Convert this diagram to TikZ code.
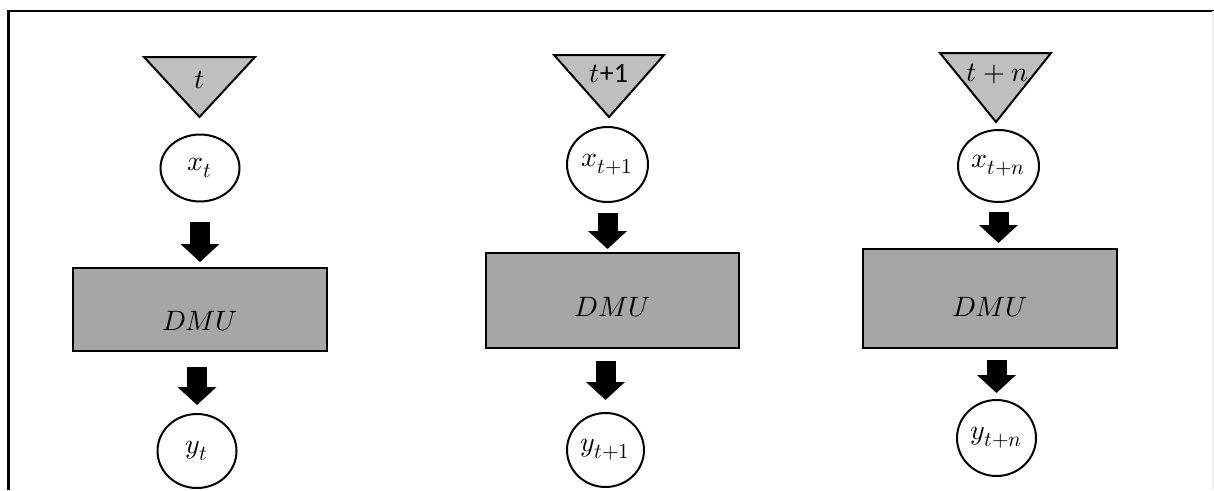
\documentclass[tikz,border=0pt]{standalone}
\usepackage{fontspec}
\usepackage{unicode-math}
\setmathfont{Latin Modern Math}
\DeclareMathSizes{21}{21}{16}{12}
\newfontfamily\calibri{Carlito}
\usetikzlibrary{arrows.meta,shapes.geometric}
\definecolor{trigray}{RGB}{191,191,191}
\definecolor{dmugray}{RGB}{166,166,166}
\begin{document}
\begin{tikzpicture}[x=0.75pt,y=-0.75pt,
  font=\fontsize{21}{25}\selectfont,
  tri/.style={draw=black, line width=1.5pt, fill=trigray, line join=miter},
  lbl/.style={inner sep=0pt},
  circ/.style={draw, ellipse, line width=1.5pt, fill=white, inner sep=0pt},
  dmu/.style={draw, rectangle, line width=1.5pt, fill=dmugray, inner sep=0pt, text depth=0pt},
  blk/.style={line width=15pt, -{Triangle[width=28.5pt,length=13.5pt]}},
  frame/.style={line width=2pt}
]
\useasboundingbox (0,0) rectangle (1214,490);
% frame
\draw[frame] (8.5,490) -- (8.5,11) -- (1214,11);
\draw[gray!12, line width=1pt] (1213,11) -- (1213,490);

% column 1
\draw[tri] (144,57) -- (255,57) -- (199.5,117) -- cycle;
\node[lbl] (t1) at (200,79.5) {$t$};
\node[circ, minimum width=59.25pt, minimum height=50.25pt] (x1) at (200,168) {$x_t$};
\node[dmu, minimum width=190.5pt, minimum height=62.25pt, text height=31.5pt] (d1) at (200,309.5) {$DMU$};
\node[circ, minimum width=59.25pt, minimum height=55.5pt] (y1) at (197,451) {$y_t$};
\draw[blk, shorten <=14.25pt, shorten >=3.75pt] (x1.south) -- (x1.south |- d1.north);
\draw[blk, shorten <=11.25pt, shorten >=6pt] (y1.north |- d1.south) -- (y1.north);

% column 2
\draw[tri] (554,55) -- (664,55) -- (609,117) -- cycle;
\node[lbl] (t2) at (609,73.5) {$t$\calibri +1};
\node[circ, minimum width=60.75pt, minimum height=56.25pt] (x2) at (607.5,164.5) {$x_{t+1}$};
\node[dmu, minimum width=189.75pt, minimum height=71.25pt, text height=24.1pt] (d2) at (612.5,300.5) {$DMU$};
\node[circ, minimum width=57.75pt, minimum height=55.5pt] (y2) at (605.5,450) {$y_{t+1}$};
\draw[blk, shorten <=7.5pt, shorten >=2.25pt] (x2.south) -- (x2.south |- d2.north);
\draw[blk, shorten <=9pt, shorten >=9pt] (y2.north |- d2.south) -- (y2.north);

% column 3
\draw[tri] (940,53) -- (1051,53) -- (996,122) -- cycle;
\node[lbl] (t3) at (997.5,73.5) {$t+n$};
\node[circ, minimum width=60.75pt, minimum height=54pt] (x3) at (998.5,166) {$x_{t+n}$};
\node[dmu, minimum width=190.5pt, minimum height=74.25pt, text height=27.1pt] (d3) at (990,298.5) {$DMU$};
\node[circ, minimum width=59.25pt, minimum height=57pt] (y3) at (996.5,438) {$y_{t+n}$};
\draw[blk, shorten <=6.75pt, shorten >=3.75pt] (x3.south) -- (x3.south |- d3.north);
\draw[blk, shorten <=8.25pt, shorten >=4.5pt] (y3.north |- d3.south) -- (y3.north);
\end{tikzpicture}
\end{document}
